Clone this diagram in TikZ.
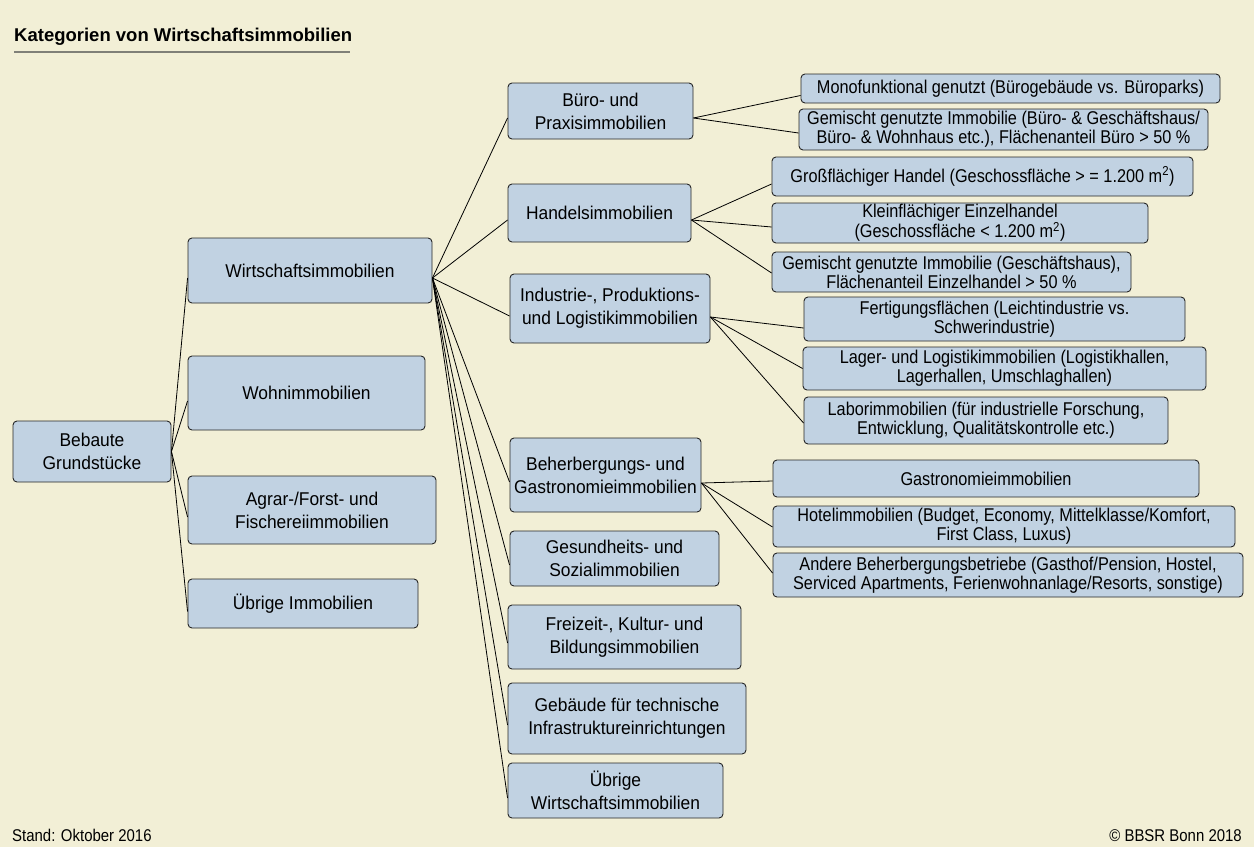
\documentclass[tikz,border=0pt]{standalone}
\usepackage{fontspec}
\setmainfont{Liberation Sans}[FakeStretch=0.88]
\newfontfamily\boxfont{Liberation Sans}[FakeStretch=0.94]
\newfontfamily\titlefont{Liberation Sans}

\definecolor{bgbeige}{RGB}{242,239,214}
\definecolor{boxblue}{RGB}{193,210,226}
\definecolor{rulegray}{RGB}{128,128,120}

\tikzset{
  box/.style={draw=black!85,fill=boxblue,rounded corners=4pt,line width=0.9pt,
    inner sep=0pt,align=center,font=\boxfont\fontsize{18.5}{23}\selectfont},
  sbox/.style={box,font=\fontsize{18.5}{19}\selectfont},
  link/.style={line width=0.8pt}
}

\begin{document}
\begin{tikzpicture}[x=1pt,y=-1pt]
\useasboundingbox (0,0) rectangle (1254,847);
\fill[bgbeige] (0,0) rectangle (1254,847);

% title
\node[anchor=base west,inner sep=0pt,font=\titlefont\bfseries\fontsize{18.5}{22}\selectfont] (title) at (14,41.5) {Kategorien von Wirtschaftsimmobilien};
\draw[rulegray,line width=1.5pt] (title.west |- 0,52) -- (350,52);

% root and first level
\node[box,minimum width=158,minimum height=61] (bg) at (92,451.5) {Bebaute\\Grundstücke};

\node[box,minimum width=244,minimum height=65] (wi) at (310,270.5) {Wirtschaftsimmobilien};
\node[box,minimum width=237,minimum height=74] (wo) at (306.5,393) {Wohnimmobilien};
\node[box,minimum width=248,minimum height=68] (ag) at (312,510) {Agrar-/Forst- und\\Fischereiimmobilien};
\node[box,minimum width=230,minimum height=49] (ue) at (303,603.5) {Übrige Immobilien};

% second level
\node[box,minimum width=185,minimum height=56] (bp) at (600.5,111) {Büro- und\\Praxisimmobilien};
\node[box,minimum width=183,minimum height=58] (ha) at (599.5,213) {Handelsimmobilien};
\node[box,minimum width=200,minimum height=69] (in) at (610,308.5) {Industrie-, Produktions-\\und Logistikimmobilien};
\node[box,minimum width=191,minimum height=74] (be) at (605.5,475) {Beherbergungs- und\\Gastronomieimmobilien};
\node[box,minimum width=209,minimum height=55] (ge) at (614.5,558.5) {Gesundheits- und\\Sozialimmobilien};
\node[box,minimum width=233,minimum height=64] (fr) at (624.5,637) {Freizeit-, Kultur- und\\Bildungsimmobilien};
\node[box,minimum width=238,minimum height=71] (tech) at (627,718.5) {Gebäude für technische\\Infrastruktureinrichtungen};
\node[box,minimum width=215,minimum height=55] (uw) at (615.5,790.5) {Übrige\\Wirtschaftsimmobilien};

% third level
\node[sbox,minimum width=419,minimum height=29] (mono) at (1010.5,88.5) {Monofunktional genutzt (Bürogebäude vs. Büroparks)};
\node[sbox,minimum width=409,minimum height=41] (gemb) at (1003.5,129.5) {Gemischt genutzte Immobilie (Büro- \& Geschäftshaus/\\Büro- \& Wohnhaus etc.), Flächenanteil Büro > 50 \%};
\node[sbox,minimum width=421,minimum height=39] (gross) at (982.5,176.5) {Großflächiger Handel (Geschossfläche > = 1.200 m\textsuperscript{2})};
\node[sbox,minimum width=376,minimum height=40] (klein) at (960,223) {Kleinflächiger Einzelhandel\\(Geschossfläche < 1.200 m\textsuperscript{2})};
\node[sbox,minimum width=359,minimum height=40] (gemh) at (951.5,272) {Gemischt genutzte Immobilie (Geschäftshaus),\\Flächenanteil Einzelhandel > 50 \%};
\node[sbox,minimum width=381,minimum height=44] (fert) at (994.5,319) {Fertigungsflächen (Leichtindustrie vs.\\Schwerindustrie)};
\node[sbox,minimum width=403,minimum height=43] (lager) at (1004.5,368.5) {Lager- und Logistikimmobilien (Logistikhallen,\\Lagerhallen, Umschlaghallen)};
\node[sbox,minimum width=364,minimum height=47] (labor) at (986,420.5) {Laborimmobilien (für industrielle Forschung,\\Entwicklung, Qualitätskontrolle etc.)};
\node[sbox,minimum width=426,minimum height=37] (gastro) at (986,478.5) {Gastronomieimmobilien};
\node[sbox,minimum width=462,minimum height=41] (hotel) at (1004,526.5) {Hotelimmobilien (Budget, Economy, Mittelklasse/Komfort,\\First Class, Luxus)};
\node[sbox,minimum width=470,minimum height=44] (andere) at (1008,575) {Andere Beherbergungsbetriebe (Gasthof/Pension, Hostel,\\Serviced Apartments, Ferienwohnanlage/Resorts, sonstige)};

% connectors
\draw[link] (bg.east) -- ([yshift=-7.5pt]wi.west);
\draw[link] (bg.east) -- ([yshift=-8pt]wo.west);
\draw[link] (bg.east) -- ([yshift=-7pt]ag.west);
\draw[link] (bg.east) -- ([yshift=-8pt]ue.west);

\draw[link] ([yshift=-7.5pt]wi.east) -- ([yshift=-7pt]bp.west);
\draw[link] ([yshift=-7.5pt]wi.east) -- ([yshift=-7pt]ha.west);
\draw[link] ([yshift=-7.5pt]wi.east) -- ([yshift=-7.5pt]in.west);
\draw[link] ([yshift=-7.5pt]wi.east) -- ([yshift=-7pt]be.west);
\draw[link] ([yshift=-7.5pt]wi.east) -- ([yshift=-6.5pt]ge.west);
\draw[link] ([yshift=-7.5pt]wi.east) -- ([yshift=-6pt]fr.west);
\draw[link] ([yshift=-7.5pt]wi.east) -- ([yshift=-6.5pt]tech.west);
\draw[link] ([yshift=-7.5pt]wi.east) -- ([yshift=-7.5pt]uw.west);

\draw[link] ([yshift=-7pt]bp.east) -- ([yshift=-7pt]mono.west);
\draw[link] ([yshift=-7pt]bp.east) -- ([yshift=-3.5pt]gemb.west);
\draw[link] ([yshift=-7pt]ha.east) -- ([yshift=-7.5pt]gross.west);
\draw[link] ([yshift=-7pt]ha.east) -- ([yshift=-4pt]klein.west);
\draw[link] ([yshift=-7pt]ha.east) -- ([yshift=-1pt]gemh.west);
\draw[link] ([yshift=-8.5pt]in.east) -- ([yshift=-9pt]fert.west);
\draw[link] ([yshift=-8.5pt]in.east) -- (lager.west);
\draw[link] ([yshift=-8.5pt]in.east) -- ([yshift=-2.5pt]labor.west);
\draw[link] ([yshift=-8pt]be.east) -- ([yshift=-2.5pt]gastro.west);
\draw[link] ([yshift=-8pt]be.east) -- ([yshift=-0.5pt]hotel.west);
\draw[link] ([yshift=-8pt]be.east) -- ([yshift=2pt]andere.west);

% footer
\node[anchor=base west,inner sep=0pt,font=\fontsize{17}{19}\selectfont] (stand) at (12,841) {Stand: Oktober 2016};
\node[anchor=base east,inner sep=0pt,font=\fontsize{17}{19}\selectfont] (bbsr) at (1242,841) {© BBSR Bonn 2018};
\end{tikzpicture}
\end{document}
